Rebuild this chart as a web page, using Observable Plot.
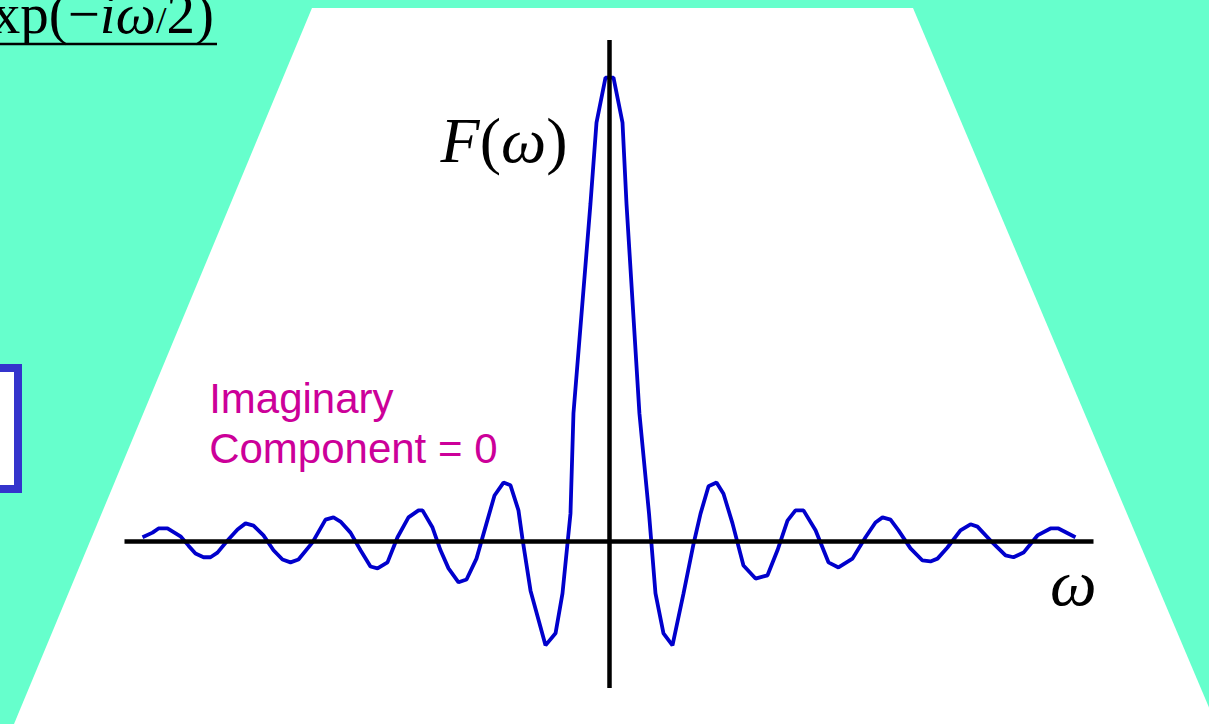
<!DOCTYPE html>
<html>
<head>
<meta charset="utf-8">
<script src="https://cdn.jsdelivr.net/npm/d3@7"></script>
<script src="https://cdn.jsdelivr.net/npm/@observablehq/plot@0.6"></script>
<style>
  html, body { margin: 0; padding: 0; background: #66ffcc; overflow: hidden; }
  #slide { position: relative; width: 1209px; height: 724px; overflow: hidden; background: #66ffcc; }
  #panel { position: absolute; left: 0; top: 0; width: 1209px; height: 724px; background: #ffffff;
           clip-path: polygon(312px 8px, 913px 8px, 1216px 724px, 14px 724px); }
  #box { position: absolute; left: -100px; top: 364px; width: 121.7px; height: 129px; box-sizing: border-box;
         border: 8.5px solid #3434cc; background: #ffffff; }
  #eq { position: absolute; left: 0; top: 0; }
  #chart { position: absolute; left: 0; top: 0; }
</style>
</head>
<body>
<div id="slide">
  <div id="panel"></div>
  <div id="box"></div>
  <svg id="eq" width="260" height="60">
    <text x="214" y="33" text-anchor="end" font-family="Liberation Serif" font-size="57" fill="#000">exp(−<tspan font-style="italic">i</tspan><tspan font-style="italic">ω</tspan><tspan font-size="38">/</tspan>2)</text>
    <line x1="0" x2="217" y1="44" y2="44" stroke="#000" stroke-width="2.5"/>
  </svg>
  <div id="chart"></div>
</div>
<script>
// Frequency samples of the transform (ω) and its real amplitude F(ω)
const omega = [
  -54.94, -53.76, -53.06, -52.00, -50.47, -49.53, -48.71, -47.76, -46.94, -46.12,
  -44.94, -43.76, -42.82, -41.88, -40.71, -39.53, -38.47, -37.53, -36.59, -34.94,
  -33.41, -32.47, -31.65, -30.47, -29.29, -28.12, -27.29, -26.12, -24.94, -23.65,
  -22.47, -22.00, -20.82, -19.88, -18.94, -17.76, -16.82, -15.65, -14.47, -13.53,
  -12.47, -11.65, -10.71, -10.24, -9.29, -7.53, -6.35, -5.53, -4.59, -4.24,
  -2.24, -1.53, -0.47, 0.47, 1.53, 2.00, 3.52, 4.65, 5.41, 6.35,
  7.41, 8.71, 9.88, 10.71, 11.65, 12.59, 13.41, 14.47, 15.76, 17.18,
  18.59, 19.76, 20.94, 21.88, 22.82, 24.24, 25.76, 26.94, 28.59, 30.12,
  31.29, 32.12, 33.06, 34.00, 35.41, 36.82, 37.76, 38.59, 39.76, 41.29,
  42.47, 43.29, 44.82, 46.59, 47.53, 48.71, 50.35, 51.88, 52.82, 54.82
];
const amplitude = [
  0.009, 0.019, 0.028, 0.028, 0.011, -0.009, -0.026, -0.034, -0.034, -0.024,
  0.002, 0.026, 0.039, 0.034, 0.013, -0.019, -0.039, -0.045, -0.039, -0.002,
  0.047, 0.052, 0.043, 0.019, -0.019, -0.054, -0.058, -0.045, 0.009, 0.052,
  0.067, 0.067, 0.030, -0.019, -0.058, -0.088, -0.082, -0.037, 0.039, 0.099,
  0.127, 0.121, 0.067, 0.006, -0.106, -0.224, -0.198, -0.112, 0.060, 0.276,
  0.728, 0.903, 1.000, 1.000, 0.903, 0.728, 0.276, 0.060, -0.112, -0.198,
  -0.224, -0.112, -0.006, 0.060, 0.119, 0.127, 0.103, 0.039, -0.052, -0.080,
  -0.073, -0.019, 0.045, 0.067, 0.067, 0.024, -0.045, -0.056, -0.037, 0.009,
  0.041, 0.052, 0.047, 0.024, -0.015, -0.041, -0.043, -0.037, -0.013, 0.024,
  0.037, 0.032, 0.002, -0.030, -0.034, -0.024, 0.013, 0.028, 0.028, 0.009
];

// Text labels placed in data coordinates
const labels = [
  {text: "F(ω)", omega: -4.94, F: 0.817},
  {text: "ω", omega: 57.3, F: -0.138}
];
const note = [{text: "Imaginary\nComponent = 0", omega: -47.1, F: 0.170}];

const series = omega.map((w, i) => ({omega: w, F: amplitude[i]}));

const chart = Plot.plot({
  width: 1209,
  height: 724,
  marginLeft: 124.5,
  marginRight: 115.5,
  marginTop: 40,
  marginBottom: 36,
  x: {domain: [-57, 57], axis: null},
  y: {domain: [-0.317, 1.08], axis: null},
  style: {background: "transparent", overflow: "visible"},
  marks: [
    Plot.line(series, {x: "omega", y: "F", stroke: "#0000cc", strokeWidth: 3.8, strokeLinejoin: "miter", strokeLinecap: "butt"}),
    Plot.ruleY([0], {stroke: "#000", strokeWidth: 4.5}),
    Plot.ruleX([0], {stroke: "#000", strokeWidth: 4.5}),
    Plot.text(labels.slice(0, 1), {x: "omega", y: "F", text: "text", textAnchor: "end", lineAnchor: "bottom",
      fontFamily: "Liberation Serif", fontSize: 64, fill: "#000"}),
    Plot.text(labels.slice(1), {x: "omega", y: "F", text: "text", textAnchor: "end", lineAnchor: "bottom",
      fontFamily: "Liberation Serif", fontStyle: "italic", fontSize: 66, fill: "#000"}),
    Plot.text(note, {x: "omega", y: "F", text: "text", textAnchor: "start", lineAnchor: "bottom",
      fontFamily: "Liberation Sans", fontSize: 42, lineHeight: 1.17, fill: "#cc0099"})
  ]
});

// Italic function name and variable, upright parentheses
for (const t of chart.querySelectorAll("text")) {
  if (t.textContent === "F(ω)") {
    t.innerHTML = '<tspan font-style="italic">F</tspan>(<tspan font-style="italic">ω</tspan>)';
  }
}

document.getElementById("chart").appendChild(chart);
</script>
</body>
</html>
